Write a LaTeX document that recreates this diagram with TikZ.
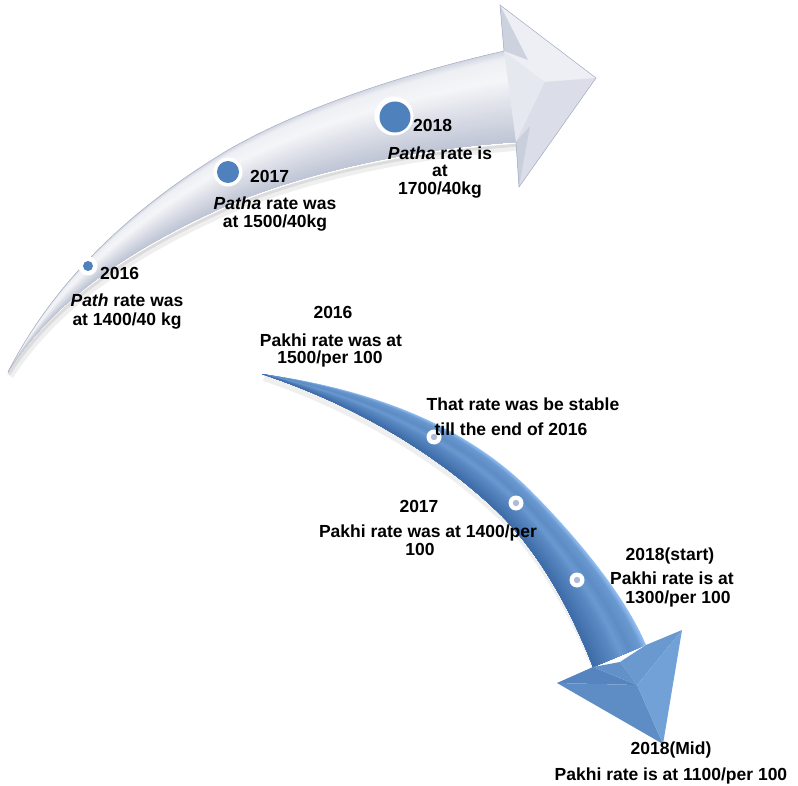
\documentclass[tikz,border=0pt]{standalone}
\usepackage{fontspec}
\setmainfont{Liberation Sans}
\usetikzlibrary{calc}
\definecolor{ublue}{HTML}{4F81BD}
\definecolor{upcol}{HTML}{A9B1C7}
\definecolor{upedge}{HTML}{A3ABC2}
\definecolor{lodark}{HTML}{3C6BA8}
\definecolor{lolight}{HTML}{90BEF1}
\definecolor{dotc}{HTML}{AFBBD6}
\tikzset{
  lbl/.style={anchor=base,inner sep=0pt,font=\bfseries\fontsize{17.5}{20}\selectfont},
  lblw/.style={lbl,anchor=base west},
}
\begin{document}
\begin{tikzpicture}[x=1pt,y=-1pt]
\useasboundingbox (0,0) rectangle (798,786);
% ---------- upper arrow geometry ----------
\coordinate (u0) at (8,372);   \coordinate (l0) at (8,372);
\coordinate (u1) at (50,290);  \coordinate (l1) at (60,290);
\coordinate (u2) at (120,215); \coordinate (l2) at (150,240);
\coordinate (u3) at (228,150); \coordinate (l3) at (228,205);
\coordinate (u4) at (310,103); \coordinate (l4) at (300,175);
\coordinate (u5) at (420,70);  \coordinate (l5) at (400,150);
\coordinate (u6) at (504,51);  \coordinate (l6) at (516,142);
% shadow
\draw[gray!50,opacity=0.25,line width=7pt] (522,147) .. controls (402,155) and (302,180) .. (230,210) .. controls (152,245) and (62,295) .. (10,376);
\draw[gray!60,opacity=0.3,line width=3pt] (520,145) .. controls (401,153) and (301,178) .. (229,208) .. controls (151,243) and (61,293) .. (9,374);
% shaded shaft (painter strips)
\foreach \i in {0,...,39}{
  \pgfmathsetmacro\fa{\i/40}
  \pgfmathsetmacro\w{\fa<0.08 ? 50+375*\fa : (\fa<0.3 ? 80+(8/0.22)*(\fa-0.08) : (\fa<0.6 ? 88-(28/0.3)*(\fa-0.3) : 60-(35/0.4)*(\fa-0.6)))}
  \fill[white!\w!upcol] ($(u0)!\fa!(l0)$) .. controls ($(u1)!\fa!(l1)$) and ($(u2)!\fa!(l2)$) .. ($(u3)!\fa!(l3)$)
     .. controls ($(u4)!\fa!(l4)$) and ($(u5)!\fa!(l5)$) .. ($(u6)!\fa!(l6)$)
     -- (l6) .. controls (l5) and (l4) .. (l3) .. controls (l2) and (l1) .. (l0) -- cycle;
}
% head facets
\fill[white!70!upcol] (504,51) -- (500,5) -- (596,78) -- (519,187) -- (516,142) -- cycle;
\fill[white!80!upcol] (500,5) -- (596,78) -- (545,82) -- (504,51) -- cycle;
\fill[white!58!upcol] (519,187) -- (596,78) -- (545,82) -- (516,142) -- cycle;
\fill[white!42!upcol] (500,5) -- (504,51) -- (528,60) -- cycle;
\fill[white!38!upcol] (519,187) -- (516,142) -- (530,126) -- cycle;
\draw[upedge,line width=0.5pt] (u0) .. controls (u1) and (u2) .. (u3) .. controls (u4) and (u5) .. (u6) -- (500,5) -- (596,78) -- (519,187) -- (516,142);
% upper dots
\fill[white] (88,266) circle (9.5pt);
\fill[ublue] (88,266) circle (5pt);
\fill[white] (228,172) circle (14.5pt);
\fill[ublue] (228,172) circle (11pt);
\fill[white] (394,116) circle (19.5pt);
\fill[ublue] (395,117) circle (15.5pt);
% ---------- lower arrow geometry ----------
\coordinate (r0) at (262,374); \coordinate (q0) at (262,374);
\coordinate (r1) at (380,390); \coordinate (q1) at (370,410);
\coordinate (r2) at (470,430); \coordinate (q2) at (450,465);
\coordinate (r3) at (530,490); \coordinate (q3) at (502,516);
\coordinate (r4) at (575,535); \coordinate (q4) at (545,560);
\coordinate (r5) at (625,595); \coordinate (q5) at (575,620);
\coordinate (r6) at (646,645); \coordinate (q6) at (593,667);
\draw[gray!50,opacity=0.25,line width=6pt] (597,673) .. controls (578,626) and (548,566) .. (505,521) .. controls (452,470) and (372,415) .. (264,378);
\foreach \i in {0,...,39}{
  \pgfmathsetmacro\fa{\i/40}
  \pgfmathsetmacro\p{\fa<0.1 ? 100-450*\fa : (\fa<0.3 ? 55-75*(\fa-0.1) : (\fa<0.45 ? 40+100*(\fa-0.3) : (\fa<0.6 ? 55-133*(\fa-0.45) : 35-87.5*(\fa-0.6))))}
  \fill[lolight!\p!lodark] ($(r0)!\fa!(q0)$) .. controls ($(r1)!\fa!(q1)$) and ($(r2)!\fa!(q2)$) .. ($(r3)!\fa!(q3)$)
     .. controls ($(r4)!\fa!(q4)$) and ($(r5)!\fa!(q5)$) .. ($(r6)!\fa!(q6)$)
     -- (q6) .. controls (q5) and (q4) .. (q3) .. controls (q2) and (q1) .. (q0) -- cycle;
}
% head facets
\fill[lolight!30!lodark] (557,683) -- (593,667) -- (637,685) -- cycle;
\fill[lolight!40!lodark] (557,683) -- (637,685) -- (663,744) -- cycle;
\fill[lolight!55!lodark] (646,645) -- (682,630) -- (637,685) -- (620,662) -- cycle;
\fill[lolight!65!lodark] (682,630) -- (663,744) -- (637,685) -- cycle;
\fill[lolight!45!lodark] (593,667) -- (620,662) -- (637,685) -- cycle;
% lower dots
\foreach \p in {(434,437),(516,503),(577,580)} {
  \fill[white] \p circle (7.5pt);
  \fill[dotc] \p circle (3.2pt);
}
% ---------- texts ----------
\node[lblw] (u16y) at (100,280) {2016};
\node[lbl] (u16a) at (127,307) {\textit{Path} rate was};
\node[lbl] (u16b) at (127,326) {at 1400/40 kg};
\node[lblw] (u17y) at (250,183) {2017};
\node[lbl] (u17a) at (275,210) {\textit{Patha} rate was};
\node[lbl] (u17b) at (275,228) {at 1500/40kg};
\node[lblw] (u18y) at (413,132) {2018};
\node[lbl] (u18a) at (440,160) {\textit{Patha} rate is};
\node[lbl] (u18b) at (440,177) {at};
\node[lbl] (u18c) at (440,195) {1700/40kg};
\node[lbl] (l16y) at (333,319) {2016};
\node[lbl] (l16a) at (331,346) {Pakhi rate was at};
\node[lbl] (l16b) at (330,363) {1500/per 100};
\node[lbl] (lsa) at (523,410) {That rate was be stable};
\node[lbl] (lsb) at (511,435) {till the end of 2016};
\node[lbl] (l17y) at (419,512) {2017};
\node[lbl] (l17a) at (428,537) {Pakhi rate was at 1400/per};
\node[lbl] (l17b) at (420,555) {100};
\node[lbl] (l18y) at (670,560) {2018(start)};
\node[lbl] (l18a) at (672,584) {Pakhi rate is at};
\node[lbl] (l18b) at (678,603) {1300/per 100};
\node[lbl] (lmy) at (671,754) {2018(Mid)};
\node[lbl] (lma) at (671,780) {Pakhi rate is at 1100/per 100};
\end{tikzpicture}
\end{document}
